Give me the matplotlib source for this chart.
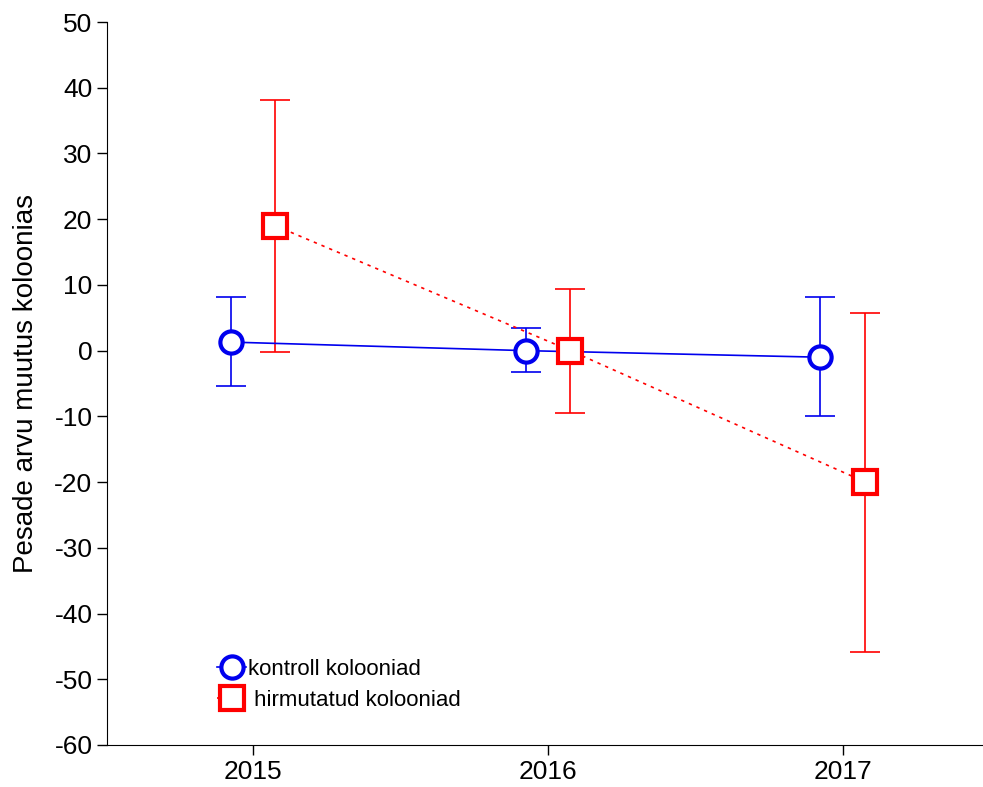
import matplotlib.pyplot as plt
import numpy as np
from matplotlib.lines import Line2D

plt.rcParams['font.family'] = ['Liberation Sans', 'DejaVu Sans']
plt.rcParams['axes.unicode_minus'] = False

# Mean change in number of nests per colony, with confidence limits
years = [2015, 2016, 2017]
kontroll = [1.3, 0.0, -1.0]
kontroll_hi = [8.2, 3.4, 8.2]
kontroll_lo = [-5.4, -3.3, -10.0]
hirm = [19.0, 0.0, -20.0]
hirm_hi = [38.1, 9.4, 5.7]
hirm_lo = [-0.2, -9.5, -45.8]

fig = plt.figure(figsize=(9.83, 7.87), dpi=100)
ax = fig.add_axes([107/983, 1 - 745/787, 1 - 107/983, (745 - 22)/787])

x = np.arange(len(years))
off = 0.076
blue = '#0000ee'
red = '#ff0000'

k = np.array(kontroll)
h = np.array(hirm)
ax.errorbar(x - off, k, yerr=[k - np.array(kontroll_lo), np.array(kontroll_hi) - k],
            fmt='none', ecolor=blue, elinewidth=1.2, capsize=11, capthick=1.2, zorder=2)
ax.errorbar(x + off, h, yerr=[h - np.array(hirm_lo), np.array(hirm_hi) - h],
            fmt='none', ecolor=red, elinewidth=1.2, capsize=11, capthick=1.2, zorder=2)
ax.plot(x - off, k, color=blue, lw=1.2, marker='o', ms=16, mew=3, mfc='white', zorder=3)
ax.plot(x + off, h, color=red, lw=1.2, ls=(0, (2, 3)), marker='s', ms=17, mew=3,
        mfc='white', zorder=3)

ax.set_xlim(-0.495, 2.475)
ax.set_ylim(-60, 50)
ax.set_xticks(x)
ax.set_xticklabels([str(y) for y in years])
ax.set_yticks(np.arange(-60, 51, 10))
ax.tick_params(axis='both', labelsize=19, direction='out', length=7, width=1)
ax.tick_params(axis='x', pad=4)
ax.spines['top'].set_visible(False)
ax.spines['right'].set_visible(False)
ax.set_ylabel('Pesade arvu muutus koloonias', fontsize=20, labelpad=11)

handles = [
    Line2D([], [], color=blue, lw=1.2, marker='o', ms=16, mew=3, mfc='white'),
    Line2D([], [], color=red, lw=1.2, ls=(0, (2, 3)), marker='s', ms=17, mew=3, mfc='white'),
]
ax.legend(handles, ['kontroll kolooniad', ' hirmutatud kolooniad'], loc='center left',
          bbox_to_anchor=(0.113, 0.083), frameon=False, fontsize=16,
          handlelength=1.3, handletextpad=0.1, labelspacing=0.45, borderpad=0)

fig.savefig('out.png', dpi=100)
